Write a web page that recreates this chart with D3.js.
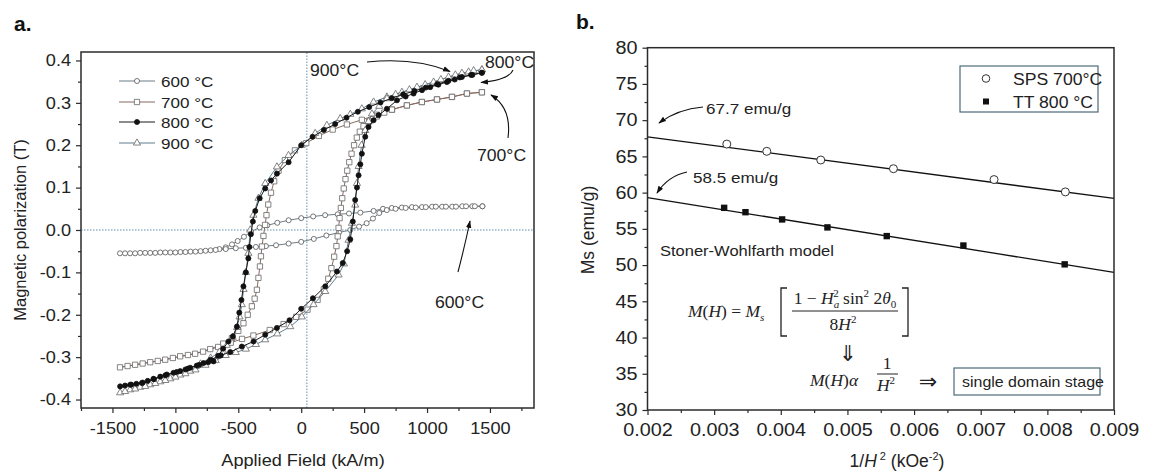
<!DOCTYPE html>
<html>
<head>
<meta charset="utf-8">
<script src="https://cdn.jsdelivr.net/npm/d3@7"></script>
<style>
  body { margin: 0; background: #fff; }
  svg { display: block; font-family: 'Liberation Sans', Arial, sans-serif; }
  .ax line { stroke: #2b2b2b; stroke-width: 1.2; }
  .ax path { display: none; }
  .ax text { fill: #222; }
  .frame { fill: none; stroke: #2b2b2b; stroke-width: 1.5; }
</style>
</head>
<body>
<svg id="chart" width="1166" height="476"></svg>
<script>
// ---- panel a: hysteresis loops, [H (kA/m), J (T)], descending branch then ascending branch
var loop600 = [
  [1440, 0.056], [1360, 0.056], [1280, 0.056], [1200, 0.055], [1120, 0.055], [1040, 0.055], [960, 0.054],
  [880, 0.054], [800, 0.053], [720, 0.052], [650, 0.050], [575, 0.045], [470, 0.041], [380, 0.039],
  [290, 0.037], [190, 0.035], [95, 0.032], [0, 0.028], [-100, 0.023], [-190, 0.017], [-270, 0.011],
  [-330, 0.006], [-400, -0.004], [-455, -0.016], [-505, -0.026], [-550, -0.034], [-600, -0.041],
  [-650, -0.045], [-720, -0.048], [-800, -0.050], [-880, -0.051], [-960, -0.052], [-1040, -0.053],
  [-1120, -0.053], [-1200, -0.054], [-1280, -0.054], [-1360, -0.055], [-1440, -0.055],
  [-1400, -0.055], [-1320, -0.055], [-1240, -0.054], [-1160, -0.054], [-1080, -0.053], [-1000, -0.053],
  [-920, -0.052], [-840, -0.051], [-760, -0.049], [-680, -0.047], [-600, -0.045], [-520, -0.043],
  [-440, -0.042], [-360, -0.040], [-280, -0.038], [-200, -0.036], [-100, -0.032], [0, -0.028],
  [100, -0.021], [200, -0.013], [300, -0.006], [390, 0.000], [460, 0.008], [520, 0.016], [570, 0.027],
  [620, 0.040], [680, 0.047], [750, 0.050], [830, 0.052], [910, 0.053], [990, 0.054], [1070, 0.055],
  [1150, 0.055], [1230, 0.055], [1310, 0.056], [1380, 0.056], [1440, 0.056]
]
var loop700 = [
  [1436, 0.325], [1317, 0.322], [1198, 0.314], [1079, 0.308], [959, 0.302], [840, 0.294], [721, 0.284],
  [601, 0.272], [482, 0.260], [363, 0.249], [250, 0.237], [140, 0.222], [40, 0.205], [-50, 0.188],
  [-130, 0.165], [-180, 0.140], [-215, 0.115], [-240, 0.088], [-262, 0.060], [-276, 0.035], [-287, 0.012],
  [-300, -0.014], [-312, -0.039], [-320, -0.062], [-328, -0.086], [-340, -0.113], [-352, -0.141],
  [-370, -0.162], [-392, -0.180], [-425, -0.200], [-459, -0.220], [-500, -0.238], [-551, -0.255],
  [-620, -0.268], [-723, -0.281], [-843, -0.292], [-962, -0.298], [-1081, -0.306], [-1200, -0.312],
  [-1320, -0.318], [-1440, -0.324],
  [-1380, -0.321], [-1260, -0.315], [-1140, -0.309], [-1020, -0.302], [-900, -0.295], [-780, -0.287],
  [-660, -0.276], [-560, -0.266], [-470, -0.257], [-380, -0.249], [-250, -0.236], [-140, -0.222],
  [-40, -0.205], [50, -0.188], [130, -0.165], [180, -0.140], [215, -0.115], [240, -0.090], [262, -0.063],
  [280, -0.038], [290, -0.015], [297, 0.005], [305, 0.028], [315, 0.052], [326, 0.075], [338, 0.098],
  [352, 0.120], [366, 0.140], [382, 0.160], [400, 0.180], [420, 0.200], [442, 0.218], [466, 0.232],
  [495, 0.245], [540, 0.256], [601, 0.268], [660, 0.277], [721, 0.284], [840, 0.294], [959, 0.302],
  [1079, 0.308], [1198, 0.314], [1317, 0.322], [1436, 0.325]
]
var loop800 = [
  [1436, 0.371], [1350, 0.366], [1260, 0.360], [1170, 0.352], [1080, 0.344], [990, 0.336], [900, 0.328],
  [810, 0.320], [720, 0.311], [630, 0.301], [540, 0.290], [450, 0.279], [360, 0.265], [270, 0.250],
  [180, 0.236], [90, 0.220], [0, 0.200], [-100, 0.160], [-193, 0.133], [-240, 0.117], [-286, 0.098],
  [-330, 0.075], [-365, 0.045], [-384, 0.020], [-400, -0.010], [-412, -0.040], [-420, -0.067],
  [-440, -0.100], [-459, -0.133], [-475, -0.165], [-492, -0.195], [-511, -0.228], [-543, -0.251],
  [-578, -0.263], [-620, -0.280], [-660, -0.297], [-697, -0.310], [-740, -0.312], [-776, -0.314],
  [-830, -0.320], [-882, -0.325], [-920, -0.329], [-962, -0.333], [-1015, -0.337], [-1068, -0.341],
  [-1120, -0.346], [-1174, -0.351], [-1220, -0.356], [-1266, -0.361], [-1310, -0.363], [-1359, -0.365],
  [-1400, -0.367], [-1439, -0.369],
  [-1350, -0.365], [-1260, -0.360], [-1170, -0.352], [-1080, -0.343], [-990, -0.335], [-900, -0.327],
  [-810, -0.318], [-720, -0.306], [-640, -0.296], [-564, -0.288], [-472, -0.275], [-379, -0.263],
  [-286, -0.247], [-193, -0.231], [-93, -0.213], [0, -0.186], [93, -0.161], [191, -0.133], [284, -0.098],
  [330, -0.078], [365, -0.050], [390, -0.022], [410, 0.020], [429, 0.071], [443, 0.100], [456, 0.129],
  [470, 0.155], [482, 0.180], [509, 0.220], [535, 0.243], [575, 0.259], [615, 0.271], [681, 0.286],
  [761, 0.306], [830, 0.315], [893, 0.322], [960, 0.330], [1025, 0.337], [1090, 0.343], [1158, 0.349],
  [1220, 0.355], [1277, 0.361], [1360, 0.366], [1436, 0.371]
]
var loop900 = [
  [1436, 0.378], [1370, 0.376], [1277, 0.370], [1171, 0.361], [1052, 0.349], [920, 0.337], [800, 0.325],
  [681, 0.314], [575, 0.302], [482, 0.286], [390, 0.273], [310, 0.263], [204, 0.247], [111, 0.228],
  [5, 0.200], [-101, 0.176], [-193, 0.149], [-286, 0.110], [-340, 0.075], [-380, 0.035], [-405, 0.000],
  [-420, -0.055], [-440, -0.100], [-458, -0.140], [-472, -0.176], [-490, -0.205], [-510, -0.230],
  [-545, -0.253], [-591, -0.272], [-650, -0.288], [-720, -0.302], [-800, -0.316], [-882, -0.333],
  [-960, -0.342], [-1040, -0.351], [-1120, -0.358], [-1200, -0.365], [-1280, -0.371], [-1360, -0.377],
  [-1439, -0.384],
  [-1400, -0.381], [-1320, -0.375], [-1240, -0.369], [-1160, -0.362], [-1080, -0.355], [-1000, -0.347],
  [-920, -0.339], [-840, -0.330], [-760, -0.319], [-680, -0.308], [-600, -0.296], [-520, -0.289],
  [-440, -0.281], [-360, -0.270], [-286, -0.259], [-190, -0.245], [-87, -0.228], [5, -0.205],
  [98, -0.176], [191, -0.145], [297, -0.106], [340, -0.080], [376, -0.024], [403, 0.016], [429, 0.059],
  [443, 0.110], [456, 0.150], [480, 0.200], [509, 0.235], [535, 0.256], [562, 0.274], [620, 0.292],
  [681, 0.310], [750, 0.320], [860, 0.331], [985, 0.343], [1110, 0.355], [1225, 0.366], [1330, 0.373],
  [1436, 0.378]
]
var loopNames = ['600 °C', '700 °C', '800 °C', '900 °C']
var leftXTicks = [-1500, -1000, -500, 0, 500, 1000, 1500]
var leftYTicks = [-0.4, -0.3, -0.2, -0.1, 0, 0.1, 0.2, 0.3, 0.4]

// ---- panel b: saturation magnetisation vs 1/H^2
var spsX = [0.00319, 0.00379, 0.0046, 0.00569, 0.0072, 0.00827]
var spsY = [66.7, 65.7, 64.5, 63.3, 61.8, 60.1]
var ttX = [0.00315, 0.00347, 0.00402, 0.0047, 0.00559, 0.00674, 0.00826]
var ttY = [57.9, 57.3, 56.3, 55.2, 54.0, 52.7, 50.1]
var spsFit = [[0.002, 67.7], [0.009, 59.2]]
var ttFit = [[0.002, 59.3], [0.009, 49.0]]
var rightXTicks = [0.002, 0.003, 0.004, 0.005, 0.006, 0.007, 0.008, 0.009]
var rightYTicks = [30, 35, 40, 45, 50, 55, 60, 65, 70, 75, 80]

var svg = d3.select('#chart')
var defs = svg.append('defs')
defs.append('marker')
    .attr('id', 'head')
    .attr('viewBox', '0 0 10 10')
    .attr('refX', 9).attr('refY', 5)
    .attr('markerWidth', 7).attr('markerHeight', 7)
    .attr('orient', 'auto')
  .append('path')
    .attr('d', 'M0,1.5 L10,5 L0,8.5 z')
    .attr('fill', '#111')

// stretch text slightly, the figure is a bit wider than Arial
function widen (sel, k) {
  sel.each(function () {
    var w = this.getComputedTextLength()
    this.setAttribute('textLength', w * k)
    this.setAttribute('lengthAdjust', 'spacingAndGlyphs')
  })
}

/*
    --------------------------------------
    Panel a
*/
var xA = d3.scaleLinear().domain([-1750, 1850]).range([81, 534])
var yA = d3.scaleLinear().domain([-0.42, 0.42]).range([408, 52])
var pa = svg.append('g')

pa.append('line')
    .attr('x1', xA.range()[0]).attr('x2', xA.range()[1])
    .attr('y1', yA(0)).attr('y2', yA(0))
    .attr('stroke', '#5f8fae').attr('stroke-width', 1).attr('stroke-dasharray', '1.5,1.5')
pa.append('line')
    .attr('x1', xA(45)).attr('x2', xA(45))
    .attr('y1', yA.range()[0]).attr('y2', yA.range()[1])
    .attr('stroke', '#5f8fae').attr('stroke-width', 1).attr('stroke-dasharray', '1.5,1.5')

var series = [
  {name: loopNames[0], data: loop600, line: '#6b7c86', sym: d3.symbolCircle, size: 20, fill: '#fff', mk: '#555'},
  {name: loopNames[1], data: loop700, line: '#8a6a60', sym: d3.symbolSquare, size: 28, fill: '#fff', mk: '#666'},
  {name: loopNames[2], data: loop800, line: '#1a1a1a', sym: d3.symbolCircle, size: 20, fill: '#111', mk: '#111'},
  {name: loopNames[3], data: loop900, line: '#5d7e90', sym: d3.symbolTriangle, size: 22, fill: '#fff', mk: '#666'}
]
var drawOrder = [0, 1, 3, 2]

var lineA = d3.line().x(d => xA(d[0])).y(d => yA(d[1]))

drawOrder.forEach(function (i) {
  var s = series[i]
  var g = pa.append('g')
  g.append('path')
      .attr('d', lineA(s.data))
      .attr('fill', 'none')
      .attr('stroke', s.line)
      .attr('stroke-width', 1)
  g.selectAll('path.pt')
      .data(s.data)
      .join('path')
      .classed('pt', true)
      .attr('transform', d => `translate(${xA(d[0])},${yA(d[1])})`)
      .attr('d', d3.symbol().type(s.sym).size(s.size))
      .attr('fill', s.fill)
      .attr('stroke', s.mk)
      .attr('stroke-width', 0.8)
})

// legend
var lg = pa.append('g')
series.forEach(function (s, i) {
  var y = [81, 102, 122, 143][i]
  lg.append('line').attr('x1', 119).attr('x2', 155).attr('y1', y).attr('y2', y)
      .attr('stroke', s.line).attr('stroke-width', 1.2)
  lg.append('path')
      .attr('transform', `translate(137,${y})`)
      .attr('d', d3.symbol().type(s.sym).size(s.size))
      .attr('fill', s.fill).attr('stroke', s.mk).attr('stroke-width', 0.8)
  lg.append('text').attr('class', 'wide').attr('x', 161).attr('y', y + 5.5)
      .attr('font-size', 15.5).attr('fill', '#222').text(s.name)
})

// axes
pa.append('g').attr('class', 'ax')
    .attr('transform', `translate(0,${yA.range()[0]})`)
    .call(d3.axisBottom(xA).tickValues(leftXTicks).tickSize(5).tickPadding(9)
      .tickFormat(d => String(d)))
    .selectAll('text').attr('font-size', 16.5).attr('class', 'wide')
pa.append('g').attr('class', 'ax')
    .attr('transform', `translate(0,${yA.range()[0]})`)
    .call(d3.axisBottom(xA).tickValues(d3.range(-1750, 1851, 250).filter(v => v % 500 !== 0))
      .tickSize(3).tickFormat(''))
pa.append('g').attr('class', 'ax')
    .attr('transform', `translate(${xA.range()[0]},0)`)
    .call(d3.axisLeft(yA).tickValues(leftYTicks).tickSize(5).tickPadding(5)
      .tickFormat(d => d.toFixed(1)))
    .selectAll('text').attr('font-size', 16.5).attr('class', 'wide')
pa.append('g').attr('class', 'ax')
    .attr('transform', `translate(${xA.range()[0]},0)`)
    .call(d3.axisLeft(yA).tickValues([-0.35, -0.25, -0.15, -0.05, 0.05, 0.15, 0.25, 0.35])
      .tickSize(3).tickFormat(''))
pa.append('rect').attr('class', 'frame')
    .attr('x', xA.range()[0]).attr('y', yA.range()[1])
    .attr('width', xA.range()[1] - xA.range()[0]).attr('height', yA.range()[0] - yA.range()[1])

pa.append('text').attr('class', 'wide').attr('x', 303).attr('y', 466)
    .attr('text-anchor', 'middle').attr('font-size', 16.5).attr('fill', '#222')
    .text('Applied Field  (kA/m)')
pa.append('text')
    .attr('transform', 'translate(26,230) rotate(-90)')
    .attr('text-anchor', 'middle').attr('font-size', 16.5).attr('fill', '#222')
    .text('Magnetic polarization (T)')
pa.append('text').attr('x', 14).attr('y', 31).attr('font-size', 21).attr('font-weight', 'bold')
    .attr('fill', '#111').text('a.')

// annotations with arrows
var notesA = [
  {t: '900°C', x: 310, y: 76, arrow: 'M367,62 Q415,57 450,71.5'},
  {t: '800°C', x: 485, y: 68, arrow: 'M513,70 Q509,80 481,82.5'},
  {t: '700°C', x: 477, y: 161, arrow: 'M508,138 Q512,108 491,95'},
  {t: '600°C', x: 435, y: 308, arrow: 'M458,272 Q465,245 470,221'}
]
notesA.forEach(function (n) {
  pa.append('text').attr('class', 'wide').attr('x', n.x).attr('y', n.y)
      .attr('font-size', 16).attr('fill', '#222').text(n.t)
  pa.append('path').attr('d', n.arrow).attr('fill', 'none')
      .attr('stroke', '#111').attr('stroke-width', 1.1).attr('marker-end', 'url(#head)')
})

/*
    --------------------------------------
    Panel b
*/
var xB = d3.scaleLinear().domain([0.002, 0.009]).range([647.5, 1114])
var yB = d3.scaleLinear().domain([30, 80]).range([410, 47.7])
var pb = svg.append('g')

var lineB = d3.line().x(d => xB(d[0])).y(d => yB(d[1]))
;[spsFit, ttFit].forEach(function (f) {
  pb.append('path').attr('d', lineB(f)).attr('fill', 'none')
      .attr('stroke', '#111').attr('stroke-width', 1.3)
})
pb.selectAll('circle.sps')
    .data(d3.zip(spsX, spsY))
    .join('circle').classed('sps', true)
    .attr('cx', d => xB(d[0])).attr('cy', d => yB(d[1])).attr('r', 4)
    .attr('fill', '#fff').attr('stroke', '#333').attr('stroke-width', 1)
pb.selectAll('rect.tt')
    .data(d3.zip(ttX, ttY))
    .join('rect').classed('tt', true)
    .attr('x', d => xB(d[0]) - 3.2).attr('y', d => yB(d[1]) - 3.2)
    .attr('width', 6.4).attr('height', 6.4).attr('fill', '#111')

pb.append('g').attr('class', 'ax')
    .attr('transform', `translate(0,${yB.range()[0]})`)
    .call(d3.axisBottom(xB).tickValues(rightXTicks).tickSize(5).tickPadding(8)
      .tickFormat(d => d.toFixed(3)))
    .selectAll('text').attr('font-size', 18).attr('class', 'wide')
pb.append('g').attr('class', 'ax')
    .attr('transform', `translate(0,${yB.range()[0]})`)
    .call(d3.axisBottom(xB).tickValues(d3.range(0.0025, 0.009, 0.001)).tickSize(3).tickFormat(''))
pb.append('g').attr('class', 'ax')
    .attr('transform', `translate(${xB.range()[0]},0)`)
    .call(d3.axisLeft(yB).tickValues(rightYTicks).tickSize(5).tickPadding(5)
      .tickFormat(d => String(d)))
    .selectAll('text').attr('font-size', 18).attr('class', 'wide')
pb.append('g').attr('class', 'ax')
    .attr('transform', `translate(${xB.range()[0]},0)`)
    .call(d3.axisLeft(yB).tickValues(d3.range(32.5, 80, 5)).tickSize(3).tickFormat(''))
pb.append('rect').attr('class', 'frame')
    .attr('x', xB.range()[0]).attr('y', yB.range()[1])
    .attr('width', xB.range()[1] - xB.range()[0]).attr('height', yB.range()[0] - yB.range()[1])

var xt = pb.append('text').attr('x', 897).attr('y', 467).attr('text-anchor', 'middle')
    .attr('font-size', 17.5).attr('fill', '#222')
xt.append('tspan').text('1/')
xt.append('tspan').attr('font-style', 'italic').text('H')
xt.append('tspan').attr('font-size', 11).attr('dy', -7).attr('dx', 3).text('2')
xt.append('tspan').attr('dy', 7).text(' (kOe')
xt.append('tspan').attr('font-size', 11).attr('dy', -7).text('-2')
xt.append('tspan').attr('dy', 7).text(')')
pb.append('text')
    .attr('transform', 'translate(594,230) rotate(-90)')
    .attr('text-anchor', 'middle').attr('font-size', 17.5).attr('fill', '#222')
    .text('Ms (emu/g)')
pb.append('text').attr('x', 576).attr('y', 29).attr('font-size', 21).attr('font-weight', 'bold')
    .attr('fill', '#111').text('b.')

// legend box
var lb = pb.append('g')
lb.append('rect').attr('x', 960).attr('y', 66).attr('width', 138).attr('height', 46)
    .attr('fill', '#fff').attr('stroke', '#4d6a78').attr('stroke-width', 1.2)
lb.append('circle').attr('cx', 986).attr('cy', 78.5).attr('r', 3.8)
    .attr('fill', '#fff').attr('stroke', '#333')
lb.append('rect').attr('x', 983).attr('y', 98.5).attr('width', 6).attr('height', 6).attr('fill', '#111')
lb.append('text').attr('class', 'wide').attr('x', 1013).attr('y', 84.5).attr('font-size', 16)
    .attr('fill', '#222').text('SPS 700°C')
lb.append('text').attr('class', 'wide').attr('x', 1013).attr('y', 107.5).attr('font-size', 16)
    .attr('fill', '#222').text('TT 800 °C')

// annotations
var notesB = [
  {t: '67.7 emu/g', x: 706, y: 114, arrow: 'M703,107 Q678,109 659,123'},
  {t: '58.5 emu/g', x: 693, y: 183, arrow: 'M687,172 Q668,176 657,193'}
]
notesB.forEach(function (n) {
  pb.append('text').attr('class', 'wide').attr('x', n.x).attr('y', n.y)
      .attr('font-size', 15.5).attr('fill', '#222').text(n.t)
  pb.append('path').attr('d', n.arrow).attr('fill', 'none')
      .attr('stroke', '#111').attr('stroke-width', 1.1).attr('marker-end', 'url(#head)')
})
pb.append('text').attr('class', 'wide').attr('x', 660).attr('y', 256)
    .attr('font-size', 15).attr('fill', '#222').text('Stoner-Wohlfarth model')

// formula
var fm = pb.append('g').attr('font-family', "'Liberation Serif', 'Times New Roman', serif")
    .attr('font-size', 17.5).attr('fill', '#222')
var t1 = fm.append('text').attr('x', 688).attr('y', 317)
t1.append('tspan').attr('font-style', 'italic').text('M')
t1.append('tspan').text('(')
t1.append('tspan').attr('font-style', 'italic').text('H')
t1.append('tspan').text(') = ')
t1.append('tspan').attr('font-style', 'italic').text('M')
t1.append('tspan').attr('font-style', 'italic').attr('font-size', 11).attr('dy', 4).text('s')
fm.append('path').attr('d', 'M787,288 h-6 v48 h6').attr('fill', 'none').attr('stroke', '#222').attr('stroke-width', 1.3)
fm.append('path').attr('d', 'M902,288 h6 v48 h-6').attr('fill', 'none').attr('stroke', '#222').attr('stroke-width', 1.3)
var num = fm.append('text').attr('x', 845).attr('y', 304).attr('text-anchor', 'middle')
num.append('tspan').text('1 − ')
num.append('tspan').attr('font-style', 'italic').text('H')
num.append('tspan').attr('font-style', 'italic').attr('font-size', 11).attr('dy', 4).text('a')
num.append('tspan').attr('font-size', 11).attr('dx', -6).attr('dy', -11).text('2')
num.append('tspan').attr('dy', 7).text(' sin')
num.append('tspan').attr('font-size', 11).attr('dy', -7).text('2')
num.append('tspan').attr('dy', 7).text(' 2')
num.append('tspan').attr('font-style', 'italic').text('θ')
num.append('tspan').attr('font-size', 11).attr('dy', 4).text('0')
fm.append('line').attr('x1', 792).attr('x2', 898).attr('y1', 311).attr('y2', 311)
    .attr('stroke', '#222').attr('stroke-width', 1)
var den = fm.append('text').attr('x', 843).attr('y', 330).attr('text-anchor', 'middle')
den.append('tspan').text('8')
den.append('tspan').attr('font-style', 'italic').text('H')
den.append('tspan').attr('font-size', 11).attr('dy', -7).text('2')

fm.append('text').attr('x', 848).attr('y', 361).attr('text-anchor', 'middle')
    .attr('font-family', "'DejaVu Sans', sans-serif").attr('font-size', 22).text('⇓')
var t2 = fm.append('text').attr('x', 810).attr('y', 386)
t2.append('tspan').attr('font-style', 'italic').text('M')
t2.append('tspan').text('(')
t2.append('tspan').attr('font-style', 'italic').text('H')
t2.append('tspan').text(')')
t2.append('tspan').attr('font-style', 'italic').text('α')
fm.append('text').attr('x', 887).attr('y', 369).attr('text-anchor', 'middle').text('1')
fm.append('line').attr('x1', 877).attr('x2', 898).attr('y1', 374).attr('y2', 374)
    .attr('stroke', '#222').attr('stroke-width', 1)
var hq = fm.append('text').attr('x', 886).attr('y', 391).attr('text-anchor', 'middle')
hq.append('tspan').attr('font-style', 'italic').text('H')
hq.append('tspan').attr('font-size', 11).attr('dy', -7).text('2')
fm.append('text').attr('x', 928).attr('y', 389).attr('text-anchor', 'middle')
    .attr('font-family', "'DejaVu Sans', sans-serif").attr('font-size', 22).text('⇒')

pb.append('rect').attr('x', 954).attr('y', 368).attr('width', 146).attr('height', 27)
    .attr('fill', '#fff').attr('stroke', '#4d6a78').attr('stroke-width', 1.2)
pb.append('text').attr('class', 'wide').attr('x', 962).attr('y', 387)
    .attr('font-size', 14.5).attr('fill', '#222').text('single domain stage')

widen(d3.selectAll('text.wide'), 1.1)
</script>
</body>
</html>
